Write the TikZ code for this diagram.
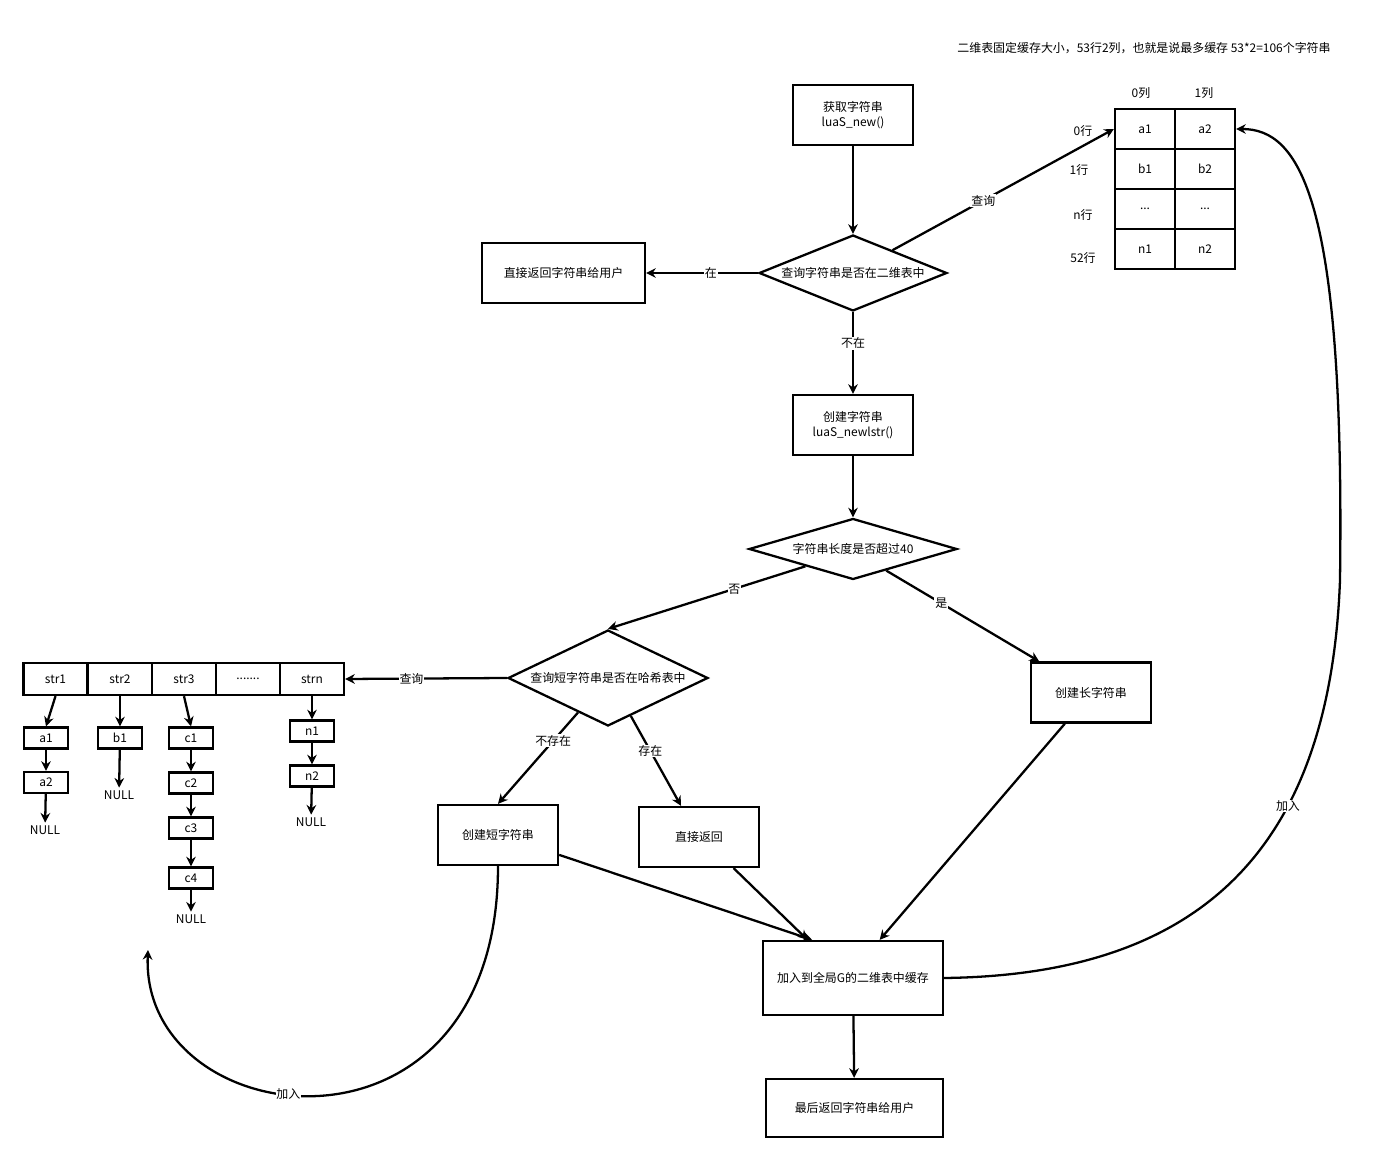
\documentclass[tikz,border=0pt]{standalone}
\usepackage{fontspec}
\setmainfont{Noto Sans CJK SC}
\usetikzlibrary{arrows.meta, positioning, shapes.geometric}
\tikzset{
    box/.style={draw, minimum width=2.4cm, minimum height=1.2cm, align=center, inner sep=1pt, font=\fontsize{6.8}{8.6}\selectfont},
    decision/.style={draw, diamond, aspect=2.5, inner sep=0pt, align=center, font=\fontsize{6.8}{8.6}\selectfont},
    cell/.style={draw, minimum width=1.2cm, minimum height=0.8cm, inner sep=0pt, font=\fontsize{6.8}{8.6}\selectfont},
    slot/.style={draw, minimum width=1.28cm, minimum height=0.64cm, inner sep=0pt, font=\fontsize{6.8}{8.6}\selectfont},
    item/.style={draw, minimum width=0.88cm, minimum height=0.42cm, inner sep=0pt, font=\fontsize{6.8}{8.6}\selectfont},
    txt/.style={inner sep=1pt, font=\fontsize{6.8}{8.6}\selectfont},
    lbl/.style={fill=white, inner sep=0.5pt, font=\fontsize{6.8}{8.6}\selectfont},
    arr/.style={-{Stealth[length=5.5pt, width=5.5pt, inset=1.8pt]}},
}
\begin{document}
\begin{tikzpicture}[x=0.02cm, y=-0.02cm, line width=1.3pt]
    \useasboundingbox (0,0) rectangle (1384,1155);

    % main flow
    \node[box] (getstr) at (853,115) {获取字符串\\luaS\_new()};
    \node[decision, minimum width=3.76cm, minimum height=1.52cm] (q1) at (853,273) {查询字符串是否在二维表中};
    \node[box, minimum width=3.26cm] (retuser) at (563.5,273) {直接返回字符串给用户};
    \node[box] (newstr) at (853,425) {创建字符串\\luaS\_newlstr()};
    \node[decision, minimum width=4.16cm, minimum height=1.22cm] (q2) at (853,549) {字符串长度是否超过40};
    \node[decision, minimum width=4cm, minimum height=1.92cm] (q3) at (608,678) {查询短字符串是否在哈希表中};
    \node[box] (longstr) at (1091,692.5) {创建长字符串};
    \node[box] (shortstr) at (498,835) {创建短字符串};
    \node[box] (direct) at (699,837) {直接返回};
    \node[box, minimum width=3.6cm, minimum height=1.48cm] (addG) at (853,978) {加入到全局G的二维表中缓存};
    \node[box, minimum width=3.54cm, minimum height=1.16cm] (final) at (854.5,1108) {最后返回字符串给用户};

    % 2-d table
    \node[txt] (title) at (1144,48) {二维表固定缓存大小，53行2列，也就是说最多缓存 53*2=106个字符串};
    \node[cell] (a1) at (1145,129) {a1};
    \node[cell] (a2) at (1205,129) {a2};
    \node[cell] (b1) at (1145,169) {b1};
    \node[cell] (b2) at (1205,169) {b2};
    \node[cell] (d1) at (1145,209) {...};
    \node[cell] (d2) at (1205,209) {...};
    \node[cell] (e1) at (1145,249) {n1};
    \node[cell] (e2) at (1205,249) {n2};
    \node[txt] (col0) at (1141,93) {0列};
    \node[txt] (col1) at (1204,93) {1列};
    \node[txt] (row0) at (1083,131) {0行};
    \node[txt] (row1) at (1079,170) {1行};
    \node[txt] (rown) at (1083,215) {n行};
    \node[txt] (row52) at (1083,258) {52行};

    % hash table
    \node[slot] (s1) at (55.5,679) {str1};
    \node[slot] (s2) at (120,679) {str2};
    \node[slot] (s3) at (184,679) {str3};
    \node[slot] (sdots) at (248,679) {.......};
    \node[slot] (sn) at (312,679) {strn};
    \node[item] (la1) at (46,738) {a1};
    \node[item] (la2) at (46,782.5) {a2};
    \node[txt] (nulla) at (45,830) {NULL};
    \node[item] (lb1) at (120,738) {b1};
    \node[txt] (nullb) at (119,795) {NULL};
    \node[item] (lc1) at (191,738) {c1};
    \node[item] (lc2) at (191,783) {c2};
    \node[item] (lc3) at (191,828) {c3};
    \node[item] (lc4) at (191,878) {c4};
    \node[txt] (nullc) at (191,919) {NULL};
    \node[item] (ln1) at (312,731) {n1};
    \node[item] (ln2) at (312,776) {n2};
    \node[txt] (nulln) at (311,822) {NULL};
    \coordinate (listin) at (148,950);

    % connectors
    \draw[arr] (getstr) -- (q1);
    \draw[arr] (q1.west) -- node[lbl, pos=0.42] {在} (retuser.east);
    \draw[arr] (q1.30) -- node[lbl, pos=0.41] {查询} (a1.west);
    \draw[arr] (q1.south) -- node[lbl, pos=0.38] {不在} (newstr.north);
    \draw[arr] (newstr) -- (q2);
    \draw[arr] (q2.-160) -- node[lbl, pos=0.36] {否} (q3.north);
    \draw[arr] (q2.-33) -- node[lbl, pos=0.36] {是} (longstr.149);
    \draw[arr] (q3.-131) -- node[lbl, pos=0.31] {不存在} (shortstr.north);
    \draw[arr] (q3.-59) -- node[lbl, pos=0.39] {存在} (direct.120);
    \draw[arr] (q3.west) -- node[lbl, pos=0.59] {查询} (sn.east);
    \draw[arr] (shortstr.-18) -- (addG.137);
    \draw[arr] (direct.-42) -- (addG.140);
    \draw[arr] (longstr.-130) -- (addG.55);
    \draw[arr] (addG) -- (final);
    \draw[arr] (addG.east) .. controls (1200,975) and (1330,850) .. node[lbl, pos=0.66] {加入} (1340,580)
        .. controls (1345,200) and (1300,129) .. (a2.east);
    \draw[arr] (shortstr.south) .. controls (498,1180) and (140,1135) .. node[lbl, pos=0.56] {加入} (listin);

    \draw[arr] (s1.south) -- (la1.north);
    \draw[arr] (la1) -- (la2);
    \draw[arr] (la2) -- (nulla);
    \draw[arr] (s2.south) -- (lb1.north);
    \draw[arr] (lb1) -- (nullb);
    \draw[arr] (s3.south) -- (lc1.north);
    \draw[arr] (lc1) -- (lc2);
    \draw[arr] (lc2) -- (lc3);
    \draw[arr] (lc3) -- (lc4);
    \draw[arr] (lc4) -- (nullc);
    \draw[arr] (sn.south) -- (ln1.north);
    \draw[arr] (ln1) -- (ln2);
    \draw[arr] (ln2) -- (nulln);
\end{tikzpicture}
\end{document}
